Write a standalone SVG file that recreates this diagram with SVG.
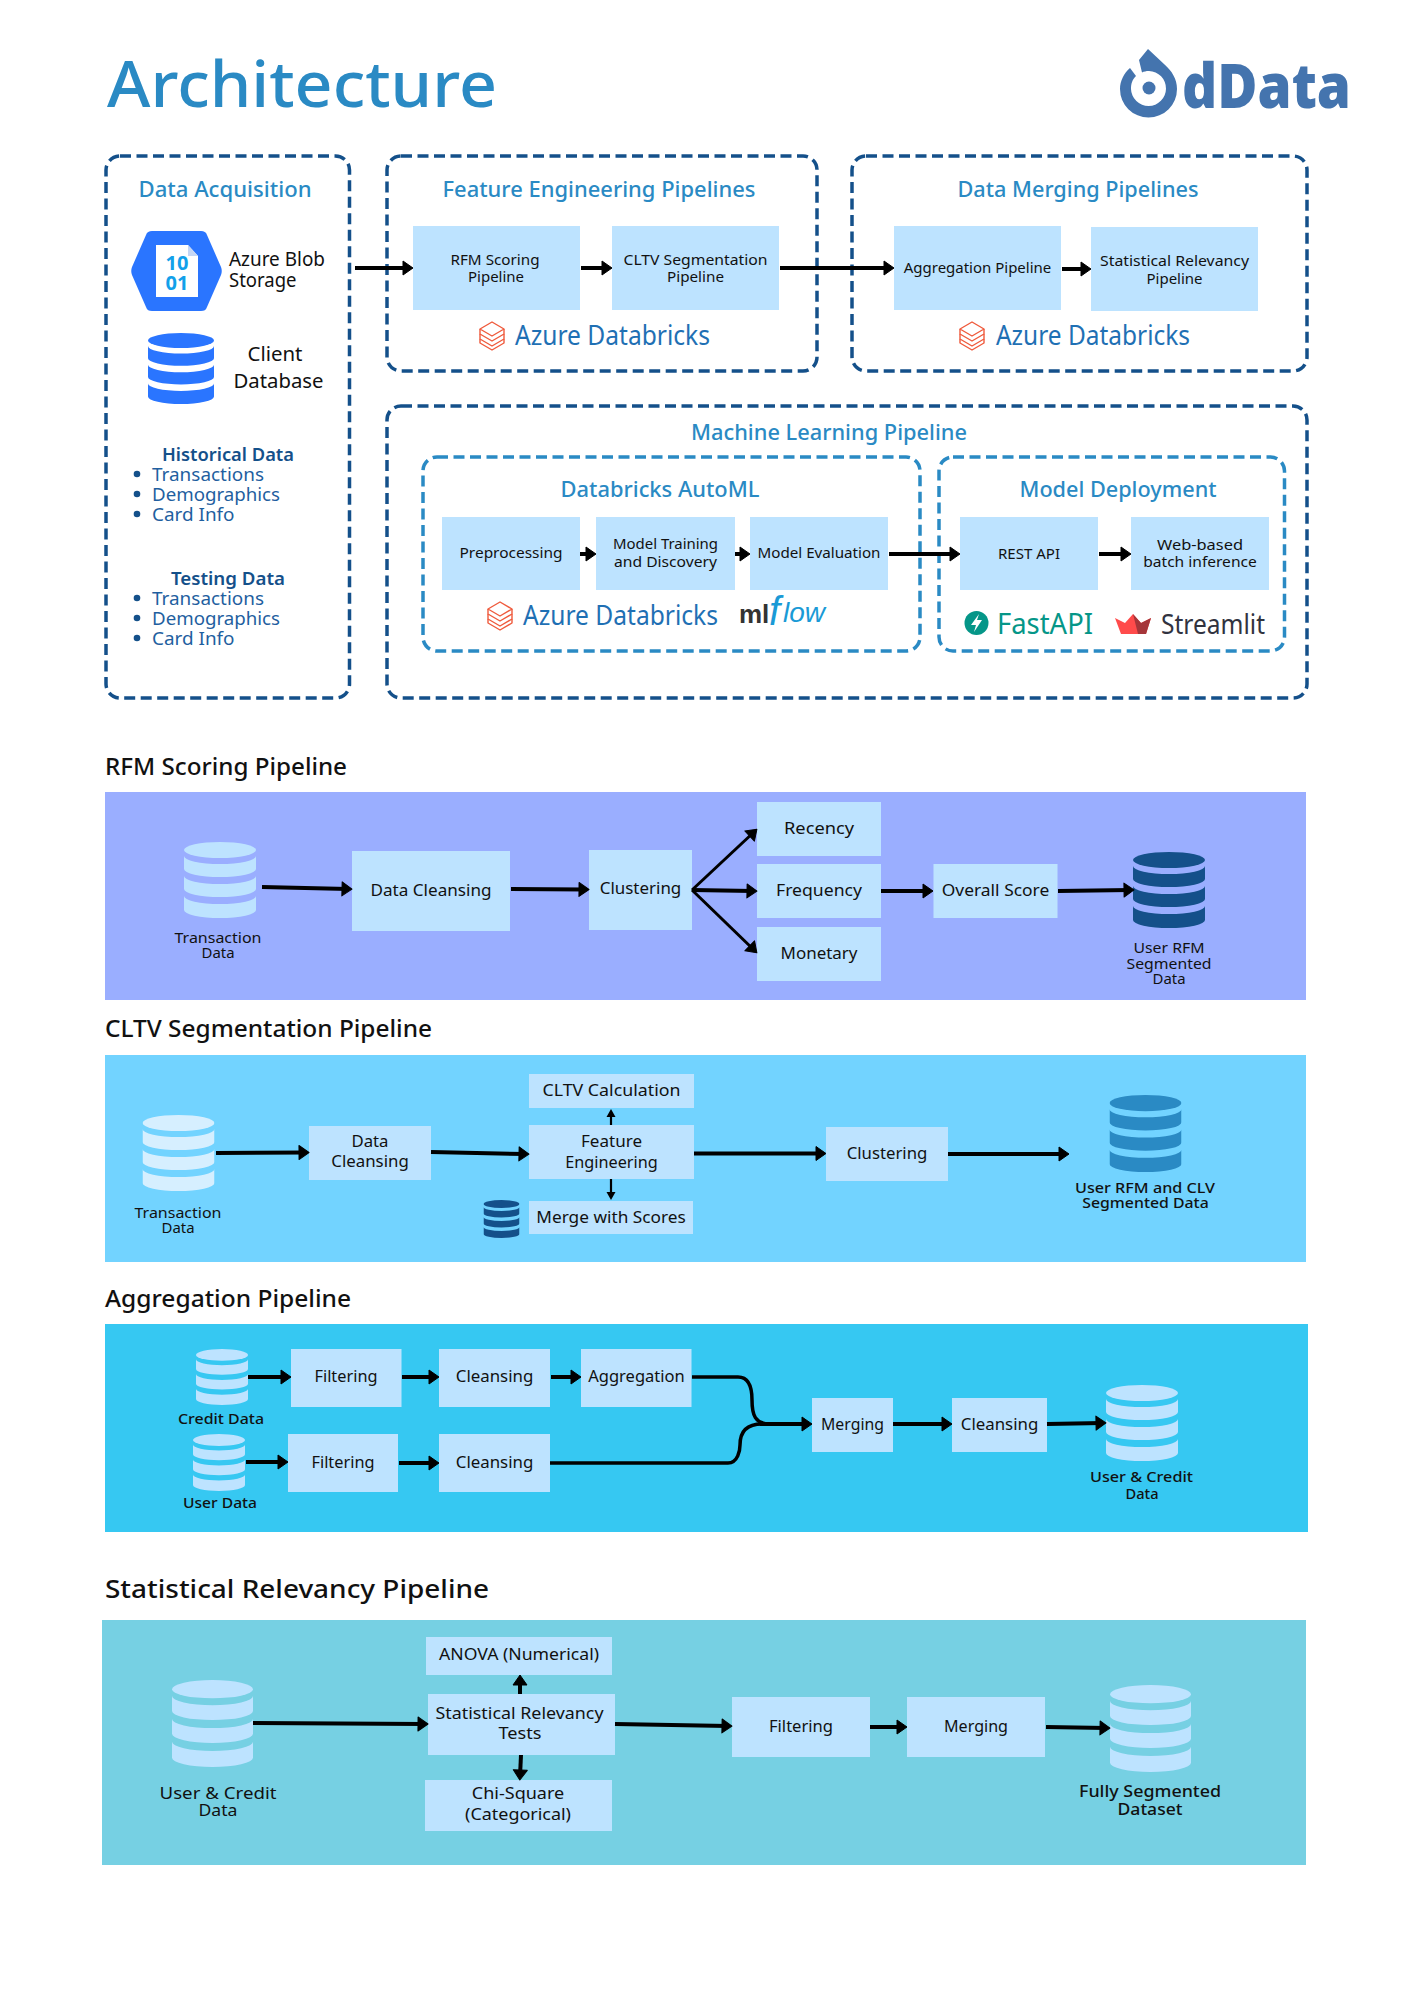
<svg xmlns="http://www.w3.org/2000/svg" width="1414" height="2000" viewBox="0 0 1414 2000">
<style>
text{font-family:"Noto Sans","Open Sans","Liberation Sans",sans-serif;fill:#111}
.c{text-anchor:middle}
.box{fill:#bde3ff}
.dash{fill:none;stroke:#14508a;stroke-width:3.5;stroke-dasharray:11 5.5}
.dash2{fill:none;stroke:#2a8ac4;stroke-width:3.5;stroke-dasharray:11 5.5}
.h{font-size:21px;font-weight:500;fill:#2a8ac4}
.s{font-size:15px}
.m{font-size:16px}
.l{font-size:17px}
.pt{font-size:23px;font-weight:500}
.az{font-size:28px;fill:#1f70b4}
.hd{font-size:18px;font-weight:600;fill:#14508a}
.it{font-size:18px;fill:#1f5fa0}
.w5{font-weight:500}
.ln{fill:none;stroke:#000;stroke-width:4;marker-end:url(#a)}
.ln2{fill:none;stroke:#000;stroke-width:2.2;marker-end:url(#b)}
.ln3{fill:none;stroke:#000;stroke-width:3;marker-end:url(#a)}
.bul{fill:#14508a}
</style>
<defs>
<marker id="a" markerUnits="userSpaceOnUse" markerWidth="14" markerHeight="18" viewBox="-1 -9 14 18" refX="6" refY="0" orient="auto"><path d="M0 -7L10 0L0 7Z" fill="#000" stroke="#000" stroke-width="1" stroke-linejoin="round"/></marker>
<marker id="b" markerUnits="userSpaceOnUse" markerWidth="12" markerHeight="12" viewBox="-1 -6 12 12" refX="5" refY="0" orient="auto"><path d="M0 -4.5L8 0L0 4.5Z" fill="#000"/></marker>
<symbol id="db" viewBox="0 0 72 76" preserveAspectRatio="none">
<ellipse cx="36" cy="8" rx="36" ry="8"/>
<path d="M0 14A36 8 0 0 0 72 14V27A36 8 0 0 1 0 27Z"/>
<path d="M0 34A36 8 0 0 0 72 34V47A36 8 0 0 1 0 47Z"/>
<path d="M0 54A36 8 0 0 0 72 54V68A36 8 0 0 1 0 68Z"/>
</symbol>
<symbol id="dbx" viewBox="0 0 26 30">
<g fill="none" stroke="#ef5a3c" stroke-width="1.4" stroke-linejoin="round">
<path d="M13 1L25 8L13 15L1 8Z"/>
<path d="M1 8V13L13 20L25 13V8"/>
<path d="M1 13V18L13 25L25 18V13"/>
<path d="M1 18V22L13 29L25 22V18"/>
</g>
</symbol>
</defs>
<rect width="1414" height="2000" fill="#fff"/>

<text id="title" x="107" y="107" font-size="64" textLength="390" lengthAdjust="spacingAndGlyphs" style="fill:#2a8ac4;font-weight:500">Architecture</text>

<g id="logo">
<path d="M1148 49L1164 64C1172 71 1177 79 1177 89A28.5 28.5 0 0 1 1120 89C1120 81 1124 73 1130 68L1136 76C1132 80 1131 84 1131 89A17.5 17.5 0 1 0 1149 71C1146 71 1144 71.5 1142 72.5L1139 60Z" fill="#4474ae"/>
<circle cx="1149" cy="88" r="6.5" fill="#4474ae"/>
<text x="1182" y="108" font-size="62" textLength="169" lengthAdjust="spacingAndGlyphs" style="fill:#4474ae;font-weight:800;font-family:'Open Sans','Liberation Sans',sans-serif">dData</text>
</g>

<g id="data-acquisition">
<rect class="dash" x="106" y="156" width="243.500" height="542" rx="14"/>
<text class="h c" x="225" y="197" textLength="173" lengthAdjust="spacingAndGlyphs">Data Acquisition</text>
<g id="azure-blob">
<path d="M152 231H201C204 231 206 232 207 235L221 267Q222.500 271 221 275L207 307C206 310 204 311 201 311H152C149 311 147 310 146 307L132 275Q130.500 271 132 267L146 235C147 232 149 231 152 231Z" fill="#2a75ff"/>
<path d="M156 245H188L198 256V297H156Z" fill="#fff"/>
<path d="M188 245L198 256H188Z" fill="#c4d6f5"/>
<text class="c" x="177" y="270" font-size="20" style="fill:#12a0ea;font-weight:700">10</text>
<text class="c" x="177" y="290" font-size="20" style="fill:#12a0ea;font-weight:700">01</text>
<text x="229" y="266" font-size="19" textLength="96" lengthAdjust="spacingAndGlyphs">Azure Blob</text>
<text x="229" y="287" font-size="19" textLength="67.500" lengthAdjust="spacingAndGlyphs">Storage</text>
</g>
<g id="client-db">
<use href="#db" x="148" y="333" width="66" height="71" fill="#2a75ff"/>
<text class="c" x="275" y="361" font-size="19" textLength="55" lengthAdjust="spacingAndGlyphs">Client</text>
<text class="c" x="278.500" y="388" font-size="19" textLength="90" lengthAdjust="spacingAndGlyphs">Database</text>
</g>
<g id="historical">
<text class="hd c" x="228" y="461" textLength="132" lengthAdjust="spacingAndGlyphs">Historical Data</text>
<circle class="bul" cx="137" cy="474" r="3.300"/><circle class="bul" cx="137" cy="494" r="3.300"/><circle class="bul" cx="137" cy="514" r="3.300"/>
<text class="it" x="152" y="481" textLength="112" lengthAdjust="spacingAndGlyphs">Transactions</text>
<text class="it" x="152" y="501" textLength="128" lengthAdjust="spacingAndGlyphs">Demographics</text>
<text class="it" x="152" y="521" textLength="82.500" lengthAdjust="spacingAndGlyphs">Card Info</text>
</g>
<g id="testing">
<text class="hd c" x="228" y="585" textLength="114" lengthAdjust="spacingAndGlyphs">Testing Data</text>
<circle class="bul" cx="137" cy="598" r="3.300"/><circle class="bul" cx="137" cy="618" r="3.300"/><circle class="bul" cx="137" cy="638" r="3.300"/>
<text class="it" x="152" y="605" textLength="112" lengthAdjust="spacingAndGlyphs">Transactions</text>
<text class="it" x="152" y="625" textLength="128" lengthAdjust="spacingAndGlyphs">Demographics</text>
<text class="it" x="152" y="645" textLength="82.500" lengthAdjust="spacingAndGlyphs">Card Info</text>
</g>
</g>

<g id="feature-engineering">
<rect class="dash" x="387" y="156" width="430" height="215" rx="14"/>
<text class="h c" x="599" y="197" textLength="313" lengthAdjust="spacingAndGlyphs">Feature Engineering Pipelines</text>
<g id="rfm-scoring-box"><rect class="box" x="413" y="226" width="167" height="84"/>
<text class="s c" x="495" y="265" textLength="89" lengthAdjust="spacingAndGlyphs">RFM Scoring</text>
<text class="s c" x="496" y="282" textLength="56" lengthAdjust="spacingAndGlyphs">Pipeline</text></g>
<g id="cltv-box"><rect class="box" x="612" y="226" width="167" height="84"/>
<text class="s c" x="695.500" y="265" textLength="144" lengthAdjust="spacingAndGlyphs">CLTV Segmentation</text>
<text class="s c" x="695.500" y="282" textLength="57" lengthAdjust="spacingAndGlyphs">Pipeline</text></g>
<use href="#dbx" x="479" y="321" width="26" height="30"/>
<text class="az" x="515" y="345" textLength="195" lengthAdjust="spacingAndGlyphs">Azure Databricks</text>
</g>

<g id="data-merging">
<rect class="dash" x="852" y="156" width="455" height="215" rx="14"/>
<text class="h c" x="1078" y="197" textLength="241" lengthAdjust="spacingAndGlyphs">Data Merging Pipelines</text>
<g id="aggregation-box"><rect class="box" x="894" y="226" width="167" height="84"/>
<text class="s c" x="977.500" y="273" textLength="147.500" lengthAdjust="spacingAndGlyphs">Aggregation Pipeline</text></g>
<g id="statistical-box"><rect class="box" x="1091" y="227" width="167" height="84"/>
<text class="s c" x="1174.500" y="266" textLength="149" lengthAdjust="spacingAndGlyphs">Statistical Relevancy</text>
<text class="s c" x="1174.500" y="284" textLength="56" lengthAdjust="spacingAndGlyphs">Pipeline</text></g>
<use href="#dbx" x="959" y="321" width="26" height="30"/>
<text class="az" x="996" y="345" textLength="194" lengthAdjust="spacingAndGlyphs">Azure Databricks</text>
</g>

<g id="ml-pipeline">
<rect class="dash" x="387" y="406" width="920" height="292" rx="14"/>
<text class="h c" x="829" y="440" textLength="276" lengthAdjust="spacingAndGlyphs">Machine Learning Pipeline</text>
<g id="automl">
<rect class="dash2" x="423" y="457" width="497" height="194" rx="14"/>
<text class="h c" x="660" y="497" textLength="199" lengthAdjust="spacingAndGlyphs">Databricks AutoML</text>
<g id="preprocessing"><rect class="box" x="442" y="517" width="138" height="73"/>
<text class="s c" x="511" y="558" textLength="103" lengthAdjust="spacingAndGlyphs">Preprocessing</text></g>
<g id="model-training"><rect class="box" x="596" y="517" width="139" height="73"/>
<text class="s c" x="665.500" y="549" textLength="105" lengthAdjust="spacingAndGlyphs">Model Training</text>
<text class="s c" x="665.500" y="567" textLength="103" lengthAdjust="spacingAndGlyphs">and Discovery</text></g>
<g id="model-evaluation"><rect class="box" x="750" y="517" width="138" height="73"/>
<text class="s c" x="819" y="558" textLength="123" lengthAdjust="spacingAndGlyphs">Model Evaluation</text></g>
<use href="#dbx" x="487" y="601" width="26" height="30"/>
<text class="az" x="523" y="625" textLength="195" lengthAdjust="spacingAndGlyphs">Azure Databricks</text>
<text y="623" style="font-family:'Liberation Sans',sans-serif"><tspan x="739" font-size="26" font-weight="700" style="fill:#333">ml</tspan><tspan x="769" y="625" font-size="40" font-style="italic" style="fill:#1a9ad6">f</tspan><tspan x="783" y="622" font-size="28" font-style="italic" style="fill:#1a9ad6">low</tspan></text>
</g>
<g id="model-deployment">
<rect class="dash2" x="939" y="457" width="345.500" height="194" rx="14"/>
<text class="h c" x="1118" y="497" textLength="197" lengthAdjust="spacingAndGlyphs">Model Deployment</text>
<g id="rest-api"><rect class="box" x="960" y="517" width="138" height="73"/>
<text class="s c" x="1029" y="559" textLength="62" lengthAdjust="spacingAndGlyphs">REST API</text></g>
<g id="web-inference"><rect class="box" x="1131" y="517" width="138" height="73"/>
<text class="s c" x="1200" y="550" textLength="86" lengthAdjust="spacingAndGlyphs">Web-based</text>
<text class="s c" x="1200" y="567" textLength="113.500" lengthAdjust="spacingAndGlyphs">batch inference</text></g>
<circle cx="976.500" cy="623" r="12" fill="#059688"/>
<path d="M979 614L971 625H976L974 632L982 620H977Z" fill="#fff"/>
<text x="997" y="634" font-size="29" style="fill:#059688" textLength="96" lengthAdjust="spacingAndGlyphs">FastAPI</text>
<path d="M1115 618L1125 623L1133 614L1141 623L1151 618L1146 634H1121Z" fill="#ff4b4b"/>
<path d="M1133 614L1141 623L1151 618L1146 634H1138Z" fill="#a5363a"/>
<text x="1161" y="634" font-size="28" style="fill:#31333f" textLength="104" lengthAdjust="spacingAndGlyphs">Streamlit</text>
</g>
</g>

<g id="rfm-pipeline">
<text class="pt" x="105" y="775" textLength="242" lengthAdjust="spacingAndGlyphs">RFM Scoring Pipeline</text>
<rect x="105" y="792" width="1201" height="208" fill="#9aaeff"/>
<g id="rfm-source"><use href="#db" x="184" y="842" width="72" height="76" fill="#bde3ff"/>
<text class="s c" x="218" y="943" textLength="87" lengthAdjust="spacingAndGlyphs">Transaction</text>
<text class="s c" x="218" y="958" textLength="33" lengthAdjust="spacingAndGlyphs">Data</text></g>
<g id="rfm-cleansing"><rect class="box" x="352" y="851" width="158" height="80"/><text class="l c" x="431" y="896" textLength="121" lengthAdjust="spacingAndGlyphs">Data Cleansing</text></g>
<g id="rfm-clustering"><rect class="box" x="589" y="850" width="103" height="80"/><text class="l c" x="640.500" y="894" textLength="81.500" lengthAdjust="spacingAndGlyphs">Clustering</text></g>
<g id="rfm-recency"><rect class="box" x="757" y="802" width="124" height="54"/><text class="l c" x="819" y="834" textLength="70" lengthAdjust="spacingAndGlyphs">Recency</text></g>
<g id="rfm-frequency"><rect class="box" x="757" y="864" width="124" height="54"/><text class="l c" x="819" y="896" textLength="86" lengthAdjust="spacingAndGlyphs">Frequency</text></g>
<g id="rfm-monetary"><rect class="box" x="757" y="927" width="124" height="54"/><text class="l c" x="819" y="959" textLength="77" lengthAdjust="spacingAndGlyphs">Monetary</text></g>
<g id="rfm-overall"><rect class="box" x="933.500" y="864" width="124" height="54"/><text class="l c" x="995.500" y="896" textLength="107.500" lengthAdjust="spacingAndGlyphs">Overall Score</text></g>
<g id="rfm-output"><use href="#db" x="1133" y="852" width="72" height="76" fill="#14508a"/>
<text class="s c" x="1169" y="953" textLength="71" lengthAdjust="spacingAndGlyphs">User RFM</text>
<text class="s c" x="1169" y="969" textLength="85" lengthAdjust="spacingAndGlyphs">Segmented</text>
<text class="s c" x="1169" y="984" textLength="33" lengthAdjust="spacingAndGlyphs">Data</text></g>
</g>

<g id="cltv-pipeline">
<text class="pt" x="105" y="1037" textLength="327" lengthAdjust="spacingAndGlyphs">CLTV Segmentation Pipeline</text>
<rect x="105" y="1055" width="1201" height="207" fill="#72d3ff"/>
<g id="cltv-source"><use href="#db" x="142.500" y="1115" width="72" height="76" fill="#d6efff"/>
<text class="s c" x="178" y="1218" textLength="87" lengthAdjust="spacingAndGlyphs">Transaction</text>
<text class="s c" x="178" y="1233" textLength="33" lengthAdjust="spacingAndGlyphs">Data</text></g>
<g id="cltv-cleansing"><rect class="box" x="309" y="1126" width="122" height="54"/>
<text class="l c" x="370" y="1147" textLength="37" lengthAdjust="spacingAndGlyphs">Data</text>
<text class="l c" x="370" y="1167" textLength="77.500" lengthAdjust="spacingAndGlyphs">Cleansing</text></g>
<g id="cltv-feature"><rect class="box" x="529" y="1125" width="165" height="54"/>
<text class="l c" x="611.500" y="1147" textLength="61" lengthAdjust="spacingAndGlyphs">Feature</text>
<text class="l c" x="611.500" y="1168" textLength="92.500" lengthAdjust="spacingAndGlyphs">Engineering</text></g>
<g id="cltv-calc"><rect class="box" x="529" y="1074" width="165" height="34"/><text class="l c" x="611.500" y="1096" textLength="138" lengthAdjust="spacingAndGlyphs">CLTV Calculation</text></g>
<g id="cltv-merge"><use href="#db" x="483.500" y="1200" width="36" height="38" fill="#14508a"/><rect class="box" x="529" y="1201" width="164" height="33"/><text class="l c" x="611" y="1223" textLength="149.500" lengthAdjust="spacingAndGlyphs">Merge with Scores</text></g>
<g id="cltv-clustering"><rect class="box" x="826" y="1127" width="122" height="54"/><text class="l c" x="887" y="1159" textLength="80.600" lengthAdjust="spacingAndGlyphs">Clustering</text></g>
<g id="cltv-output"><use href="#db" x="1109.500" y="1095" width="72" height="77" fill="#2a8ac4"/>
<text class="s c w5" x="1145" y="1193" textLength="140" lengthAdjust="spacingAndGlyphs">User RFM and CLV</text>
<text class="s c w5" x="1145.500" y="1208" textLength="126.500" lengthAdjust="spacingAndGlyphs">Segmented Data</text></g>
</g>

<g id="aggregation-pipeline">
<text class="pt" x="105" y="1307" textLength="246" lengthAdjust="spacingAndGlyphs">Aggregation Pipeline</text>
<rect x="105" y="1324" width="1203" height="208" fill="#36c8f2"/>
<g id="agg-credit"><use href="#db" x="196" y="1349" width="52" height="56" fill="#bde3ff"/>
<text class="s c w5" x="221" y="1424" textLength="86" lengthAdjust="spacingAndGlyphs">Credit Data</text></g>
<g id="agg-user"><use href="#db" x="193" y="1434" width="52" height="57" fill="#bde3ff"/>
<text class="s c w5" x="220" y="1508" textLength="74" lengthAdjust="spacingAndGlyphs">User Data</text></g>
<g id="agg-filter1"><rect class="box" x="291" y="1349" width="110.500" height="58"/><text class="l c" x="346" y="1382" textLength="63" lengthAdjust="spacingAndGlyphs">Filtering</text></g>
<g id="agg-clean1"><rect class="box" x="439" y="1349" width="111" height="58"/><text class="l c" x="494.500" y="1382" textLength="77.500" lengthAdjust="spacingAndGlyphs">Cleansing</text></g>
<g id="agg-aggregation"><rect class="box" x="581" y="1349" width="110.500" height="58"/><text class="l c" x="636.500" y="1382" textLength="96.500" lengthAdjust="spacingAndGlyphs">Aggregation</text></g>
<g id="agg-filter2"><rect class="box" x="288" y="1434" width="110" height="58"/><text class="l c" x="343" y="1468" textLength="63" lengthAdjust="spacingAndGlyphs">Filtering</text></g>
<g id="agg-clean2"><rect class="box" x="439" y="1434" width="111" height="58"/><text class="l c" x="494.500" y="1468" textLength="77.500" lengthAdjust="spacingAndGlyphs">Cleansing</text></g>
<g id="agg-merging"><rect class="box" x="812" y="1398" width="81" height="54"/><text class="l c" x="852.500" y="1430" textLength="63" lengthAdjust="spacingAndGlyphs">Merging</text></g>
<g id="agg-clean3"><rect class="box" x="952" y="1398" width="95" height="54"/><text class="l c" x="999.500" y="1430" textLength="77.500" lengthAdjust="spacingAndGlyphs">Cleansing</text></g>
<g id="agg-output"><use href="#db" x="1106" y="1385" width="72" height="76" fill="#bde3ff"/>
<text class="s c w5" x="1141.500" y="1482" textLength="103" lengthAdjust="spacingAndGlyphs">User &amp; Credit</text>
<text class="s c w5" x="1142" y="1499" textLength="33" lengthAdjust="spacingAndGlyphs">Data</text></g>
</g>

<g id="statistical-pipeline">
<text class="pt" x="105" y="1598" style="font-size:26px" textLength="384" lengthAdjust="spacingAndGlyphs">Statistical Relevancy Pipeline</text>
<rect x="102" y="1620" width="1204" height="245" fill="#76d0e3"/>
<g id="stat-source"><use href="#db" x="172" y="1680" width="81" height="87" fill="#bde3ff"/>
<text class="l c" x="218" y="1799" textLength="117" lengthAdjust="spacingAndGlyphs">User &amp; Credit</text>
<text class="l c" x="218" y="1816" textLength="39" lengthAdjust="spacingAndGlyphs">Data</text></g>
<g id="stat-anova"><rect class="box" x="426" y="1637" width="186" height="38"/><text class="l c" x="519" y="1660" textLength="160" lengthAdjust="spacingAndGlyphs">ANOVA (Numerical)</text></g>
<g id="stat-tests"><rect class="box" x="428" y="1694" width="187" height="61"/>
<text class="l c" x="519.500" y="1719" textLength="168" lengthAdjust="spacingAndGlyphs">Statistical Relevancy</text>
<text class="l c" x="520" y="1739" textLength="43" lengthAdjust="spacingAndGlyphs">Tests</text></g>
<g id="stat-chi"><rect class="box" x="425" y="1780" width="187" height="51"/>
<text class="l c" x="518" y="1799" textLength="92.500" lengthAdjust="spacingAndGlyphs">Chi-Square</text>
<text class="l c" x="518" y="1820" textLength="106" lengthAdjust="spacingAndGlyphs">(Categorical)</text></g>
<g id="stat-filter"><rect class="box" x="732" y="1697" width="138" height="60"/><text class="l c" x="801" y="1732" textLength="64" lengthAdjust="spacingAndGlyphs">Filtering</text></g>
<g id="stat-merge"><rect class="box" x="907" y="1697" width="138" height="60"/><text class="l c" x="976" y="1732" textLength="64" lengthAdjust="spacingAndGlyphs">Merging</text></g>
<g id="stat-output"><use href="#db" x="1110" y="1685" width="81" height="87" fill="#bde3ff"/>
<text class="l c w5" x="1150" y="1797" textLength="142" lengthAdjust="spacingAndGlyphs">Fully Segmented</text>
<text class="l c w5" x="1150" y="1815" textLength="65" lengthAdjust="spacingAndGlyphs">Dataset</text></g>
</g>

<g id="connectors">
<path class="ln" d="M355 268H409"/>
<path class="ln" d="M581 268H608"/>
<path class="ln" d="M780 268H890"/>
<path class="ln" d="M1062 269H1087"/>
<path class="ln" d="M580 554H592"/>
<path class="ln" d="M735 554H746"/>
<path class="ln" d="M889 554H956"/>
<path class="ln" d="M1099 554H1127"/>
<path class="ln" d="M262 887L348 889"/>
<path class="ln" d="M511 889L585 889.500"/>
<path class="ln3" d="M692 890L754 832"/>
<path class="ln" d="M692 890L753 891"/>
<path class="ln3" d="M692 890L754 950"/>
<path class="ln" d="M881 891H929"/>
<path class="ln" d="M1058 891L1130 890"/>
<path class="ln" d="M216 1153L305 1152.500"/>
<path class="ln" d="M431 1152L525 1154"/>
<path class="ln" d="M694 1153.500H822"/>
<path class="ln" d="M948 1154H1065"/>
<path class="ln2" d="M611 1125V1112"/>
<path class="ln2" d="M611 1179V1197"/>
<path class="ln" d="M248 1377H287"/>
<path class="ln" d="M402 1377H435"/>
<path class="ln" d="M551 1377H577"/>
<path d="M692 1377H738C750 1377 752 1390 752 1400C752 1415 755 1424 770 1424" fill="none" stroke="#000" stroke-width="3.500"/>
<path d="M550 1463H728C738 1463 740 1450 740 1445C740 1430 748 1424 762 1424" fill="none" stroke="#000" stroke-width="3.500"/>
<path class="ln" d="M760 1424H808"/>
<path class="ln" d="M893 1424H948"/>
<path class="ln" d="M1047 1424L1102 1423"/>
<path class="ln" d="M246 1462H284"/>
<path class="ln" d="M399 1463H435"/>
<path class="ln" d="M253 1723L424 1724"/>
<path class="ln" d="M615 1724L728 1726"/>
<path class="ln" d="M870 1727H903"/>
<path class="ln" d="M1046 1727L1106 1728"/>
<path class="ln" d="M520 1694V1679"/>
<path class="ln" d="M521 1755L520 1776"/>
</g>
</svg>
